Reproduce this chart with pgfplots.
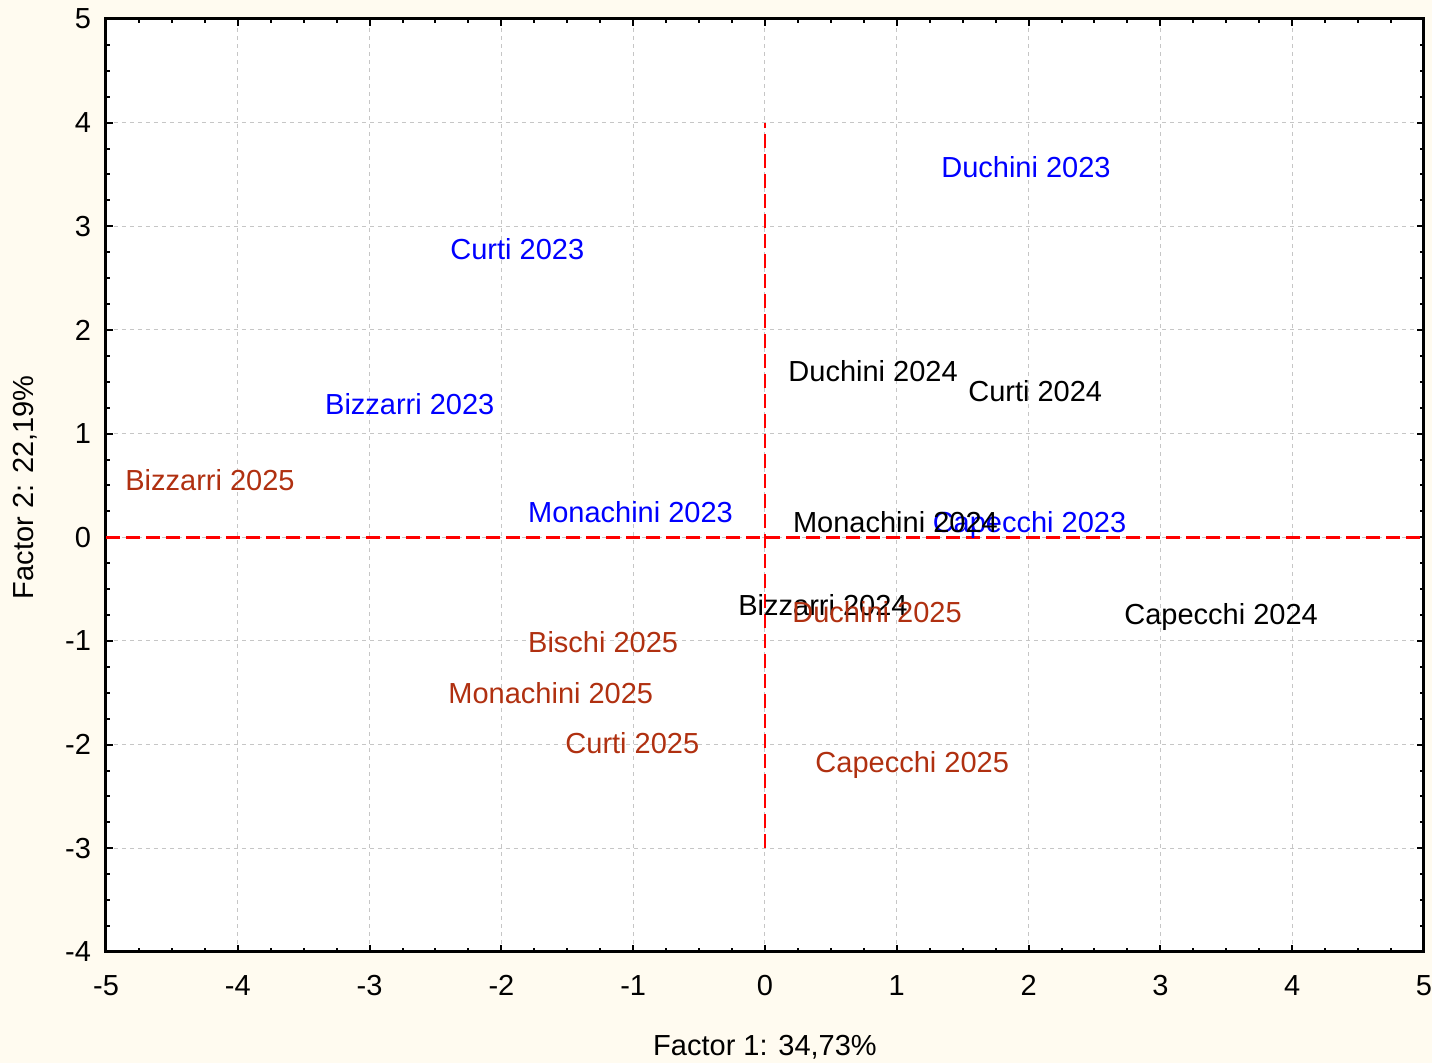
\documentclass[border=0pt]{standalone}
\usepackage{pgfplots}
\pgfplotsset{compat=1.18}
\usepackage{fontspec}
\setmainfont{Liberation Sans}
\definecolor{cream}{RGB}{255,251,240}
\definecolor{lab23}{RGB}{0,0,255}
\definecolor{lab25}{RGB}{176,48,16}
\newcommand{\fs}{\fontsize{14.5}{17}\selectfont}
\begin{document}
\begin{tikzpicture}
\fill[cream] (-53pt,-55.5pt) rectangle (663pt,476pt);
\begin{axis}[
  scale only axis, width=659pt, height=466.5pt,
  xmin=-5, xmax=5, ymin=-4, ymax=5,
  xtick={-5,...,5}, ytick={-4,...,5},
  minor x tick num=3, minor y tick num=3,
  tick align=inside, major tick length=3.5pt, minor tick length=2pt,
  every tick/.style={black, line width=1pt},
  axis line style={black, line width=1.5pt},
  axis background/.style={fill=white},
  grid=major, major grid style={gray!45, dash pattern=on 2pt off 2pt, line width=0.5pt},
  /pgf/number format/assume math mode=true,
  tick label style={font=\fs},
  xticklabel style={yshift=-8pt},
  yticklabel style={xshift=-4pt},
  xlabel={Factor 1: 34,73\%}, ylabel={Factor 2: 22,19\%},
  label style={font=\fs},
  xlabel style={at={(axis description cs:0.5,-0.102)}, anchor=center},
  ylabel style={at={(axis description cs:-0.0615,0.498)}, anchor=center},
  clip=false,
  nodes near coords, point meta=explicit symbolic,
  nodes near coords style={anchor=base west, inner sep=0pt, font=\fs},
]
\addplot[red, line width=1.4pt, dash pattern=on 7pt off 3pt, nodes near coords=] coordinates {(-5,0) (5,0)};
\addplot[red, line width=1.4pt, dash pattern=on 7pt off 3pt, nodes near coords=] coordinates {(0,-3) (0,4)};
\addplot[only marks, mark=none, nodes near coords style={text=lab23}] table[col sep=comma, meta=label] {
x,y,label
1.335,3.47,Duchini 2023
-2.39,2.68,Curti 2023
-3.34,1.18,Bizzarri 2023
-1.80,0.14,Monachini 2023
1.27,0.05,Capecchi 2023
};
\addplot[only marks, mark=none, nodes near coords style={text=black}] table[col sep=comma, meta=label] {
x,y,label
0.175,1.50,Duchini 2024
1.54,1.31,Curti 2024
0.21,0.05,Monachini 2024
-0.205,-0.75,Bizzarri 2024
2.724,-0.84,Capecchi 2024
};
\addplot[only marks, mark=none, nodes near coords style={text=lab25}] table[col sep=comma, meta=label] {
x,y,label
-4.856,0.455,Bizzarri 2025
0.205,-0.82,Duchini 2025
-1.80,-1.11,Bischi 2025
-2.405,-1.60,Monachini 2025
-1.517,-2.09,Curti 2025
0.38,-2.265,Capecchi 2025
};
\end{axis}
\pgfresetboundingbox
\path (-53pt,-55.5pt) rectangle (663pt,476pt);
\end{tikzpicture}
\end{document}
